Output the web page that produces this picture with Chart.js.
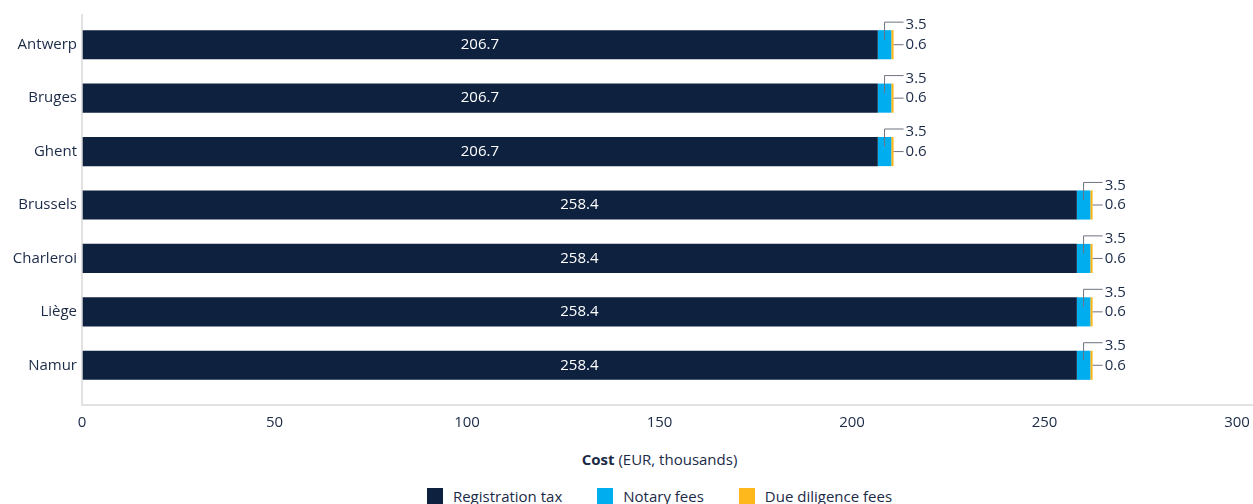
<!DOCTYPE html>
<html lang="en">
<head>
    <meta charset="UTF-8">
    <title>Property purchase costs</title>
    <script src="https://cdn.jsdelivr.net/npm/chart.js"></script>
    <style>
        body { margin: 0; background: #fff; font-family: "Open Sans", sans-serif; color: #1b2a47; }
        .wrap { position: relative; width: 1253px; height: 504px; overflow: hidden; }
        .chart-box { position: absolute; left: 0; top: 0; width: 1253px; height: 440px; }
        .axis-title { position: absolute; left: 82px; width: 1155px; top: 449px; text-align: center; font-size: 15px; }
        .legend { position: absolute; left: 82px; width: 1155px; top: 486px; display: flex; justify-content: center; gap: 35px; font-size: 15px; }
        .legend span.item { display: flex; align-items: center; }
        .legend i { display: inline-block; width: 16px; height: 16px; margin-right: 10px; }
    </style>
</head>
<body>
<div class="wrap">
    <div class="chart-box"><canvas id="chart"></canvas></div>
    <div class="axis-title"><b>Cost</b> (EUR, thousands)</div>
    <div class="legend" id="legend"></div>
</div>

<script>
    // values in EUR thousands
    const cities = ["Antwerp", "Bruges", "Ghent", "Brussels", "Charleroi", "Liège", "Namur"];
    const registrationTax = [206.7, 206.7, 206.7, 258.4, 258.4, 258.4, 258.4];
    const notaryFees = [3.5, 3.5, 3.5, 3.5, 3.5, 3.5, 3.5];
    const dueDiligenceFees = [0.6, 0.6, 0.6, 0.6, 0.6, 0.6, 0.6];
    const seriesNames = ["Registration tax", "Notary fees", "Due diligence fees"];
    const seriesColors = ["#0e2240", "#00aeef", "#ffb81c"];

    const textColor = "#1b2a47";
    const font = "Open Sans";

    // html legend
    const legend = document.getElementById("legend");
    seriesNames.forEach((name, i) => {
        const item = document.createElement("span");
        item.className = "item";
        item.innerHTML = `<i style="background:${seriesColors[i]}"></i>${name}`;
        legend.appendChild(item);
    });

    const labelPlugin = {
        id: "labels",
        afterDraw(chart) {
            const ctx = chart.ctx;
            const area = chart.chartArea;
            ctx.save();

            // axis lines
            ctx.strokeStyle = "#d9d9d9";
            ctx.lineWidth = 1.5;
            ctx.beginPath();
            ctx.moveTo(area.left, area.top - 4);
            ctx.lineTo(area.left, area.bottom + 13);
            ctx.lineTo(chart.width, area.bottom + 13);
            ctx.stroke();

            const m0 = chart.getDatasetMeta(0).data;
            const m1 = chart.getDatasetMeta(1).data;
            const m2 = chart.getDatasetMeta(2).data;
            ctx.font = `15px "${font}"`;
            ctx.textBaseline = "middle";

            m0.forEach((bar, i) => {
                // value inside
                ctx.fillStyle = "#ffffff";
                ctx.textAlign = "center";
                ctx.fillText(registrationTax[i].toFixed(1), (bar.x + bar.base) / 2, bar.y);

                // callouts
                const nb = m1[i];
                const db = m2[i];
                const top = nb.y - nb.height / 2;
                const cx = (nb.x + nb.base) / 2;
                const lx = db.x + 12;
                ctx.strokeStyle = "#6e7380";
                ctx.lineWidth = 1;
                ctx.beginPath();
                ctx.moveTo(cx, nb.y - 5);
                ctx.lineTo(cx, top - 8);
                ctx.lineTo(lx - 2, top - 8);
                ctx.moveTo(db.x, db.y);
                ctx.lineTo(lx - 2, db.y);
                ctx.stroke();

                ctx.fillStyle = textColor;
                ctx.textAlign = "left";
                ctx.fillText(notaryFees[i].toFixed(1), lx, top - 5);
                ctx.fillText(dueDiligenceFees[i].toFixed(1), lx, db.y);
            });
            ctx.restore();
        }
    };

    const ctx = document.getElementById("chart").getContext("2d");
    new Chart(ctx, {
        type: "bar",
        data: {
            labels: cities,
            datasets: [registrationTax, notaryFees, dueDiligenceFees].map((vals, i) => ({
                label: seriesNames[i],
                data: vals,
                backgroundColor: seriesColors[i],
                borderWidth: 0,
                barPercentage: 0.545,
                categoryPercentage: 1
            }))
        },
        options: {
            indexAxis: "y",
            responsive: true,
            maintainAspectRatio: false,
            animation: false,
            layout: { padding: { top: 18, right: 0, left: 0, bottom: 0 } },
            plugins: {
                legend: { display: false },
                tooltip: { enabled: false }
            },
            scales: {
                x: {
                    stacked: true,
                    min: 0,
                    max: 300,
                    border: { display: false },
                    grid: { display: false, drawTicks: false },
                    ticks: { stepSize: 50, padding: 22, color: textColor, font: { family: font, size: 15 } },
                    afterFit(scale) { scale.height = 48; scale.paddingRight = 16; }
                },
                y: {
                    stacked: true,
                    border: { display: false },
                    grid: { display: false, drawTicks: false },
                    ticks: { padding: 5, color: textColor, font: { family: font, size: 15 } },
                    afterFit(scale) { scale.width = 82; }
                }
            }
        },
        plugins: [labelPlugin]
    });
</script>
</body>
</html>
